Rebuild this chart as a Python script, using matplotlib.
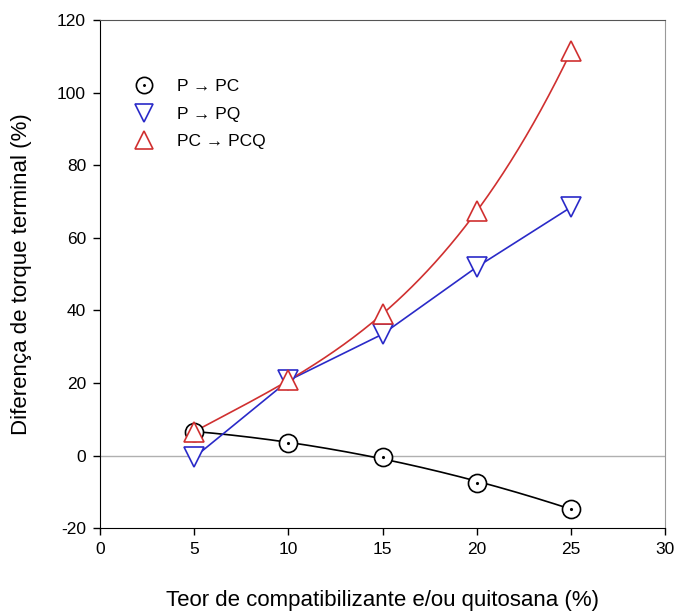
"""Diferença de torque terminal vs teor de compatibilizante/quitosana."""
import numpy as np
import matplotlib.pyplot as plt
from matplotlib.legend_handler import HandlerTuple

plt.rcParams['font.family'] = ['Liberation Sans', 'DejaVu Sans']
plt.rcParams['axes.unicode_minus'] = False

teor = [5, 10, 15, 20, 25]
p_pc = [6.6, 3.6, -0.5, -7.6, -14.6]
p_pq = [-0.5, 20.7, 33.5, 52.0, 68.5]
pc_pcq = [6.6, 20.8, 39.0, 67.5, 111.5]

labels = ['P \u2192 PC', 'P \u2192 PQ', 'PC \u2192 PCQ']


def smooth(x, y, deg):
    coef = np.polyfit(x, y, deg)
    xs = np.linspace(min(x), max(x), 200)
    return xs, np.polyval(coef, xs)


fig = plt.figure(figsize=(6.78, 6.12), dpi=100)
ax = fig.add_axes([0.1475, 0.137, 0.834, 0.830])

ax.axhline(0, color='#b0b0b0', lw=1, zorder=1)

red = '#d03030'
blue = '#2a2ac8'
ms = 13

# curvas
xs, ys = smooth(teor, p_pc, 2)
ax.plot(xs, ys, color='black', lw=1.2, zorder=2)
ax.plot(teor, p_pq, color=blue, lw=1.2, zorder=2)
xs, ys = smooth(teor, pc_pcq, 3)
ax.plot(xs, ys, color=red, lw=1.2, zorder=2)

# marcadores
c1, = ax.plot(teor, p_pc, 'o', ms=ms, mfc='white', mec='black', mew=1.2, zorder=3)
c2, = ax.plot(teor, p_pc, '.', ms=2.5, color='black', zorder=4)
t1, = ax.plot(teor, p_pq, 'v', ms=ms + 1, mfc='white', mec=blue, mew=1.2, zorder=3)
t2, = ax.plot(teor, pc_pcq, '^', ms=ms + 1, mfc='white', mec=red, mew=1.2, zorder=5)

ax.legend([(c1, c2), t1, t2], labels, handler_map={tuple: HandlerTuple(ndivide=1)},
          loc='upper left', bbox_to_anchor=(0.035, 0.915), frameon=False, fontsize=12.5,
          handlelength=1.0, handletextpad=1.4, labelspacing=0.72, markerscale=0.9)

ax.set_xlim(0, 30)
ax.set_ylim(-20, 120)
ax.set_xticks(range(0, 31, 5))
ax.set_yticks(range(-20, 121, 20))
ax.tick_params(direction='out', length=5, width=1, labelsize=12.5, colors='black', pad=5)
ax.tick_params(top=False, right=False)
ax.spines['top'].set_color('#555555')
ax.spines['right'].set_color('#999999')

ax.set_xlabel('Teor de compatibilizante e/ou quitosana (%)', fontsize=16, labelpad=24)
ax.set_ylabel('Diferença de torque terminal (%)', fontsize=16, labelpad=18)

fig.savefig('out.png', dpi=100)
